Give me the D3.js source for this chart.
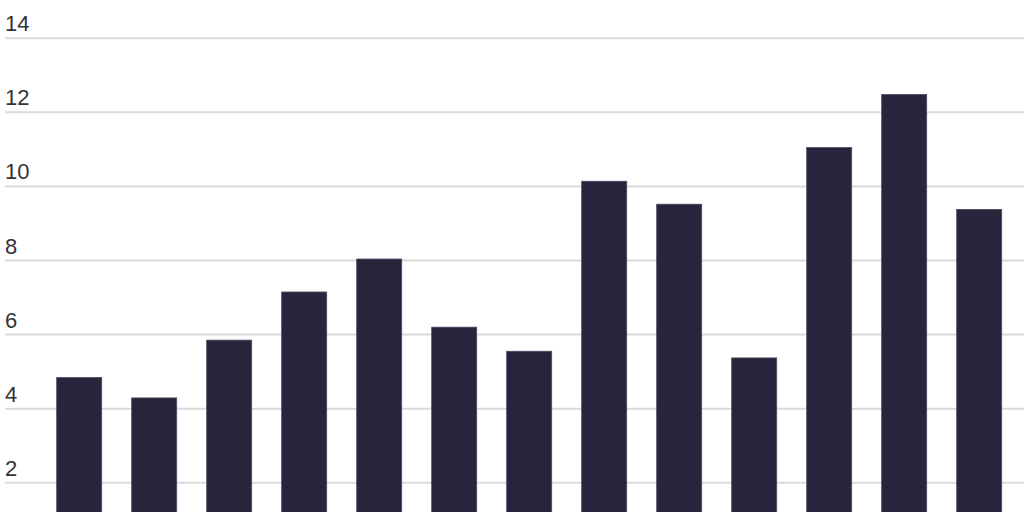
<!DOCTYPE html>
<html>
<head>
<meta charset="utf-8">
<script src="https://cdn.jsdelivr.net/npm/d3@7"></script>
<style>
  html, body { margin: 0; padding: 0; background: #fff; }
  svg { display: block; }
</style>
</head>
<body>
<svg id="chart" width="1024" height="512"></svg>
<script>
const categories = ["1","2","3","4","5","6","7","8","9","10","11","12","13"];
const values = [4.84, 4.29, 5.85, 7.15, 8.04, 6.20, 5.55, 10.14, 9.52, 5.37, 11.05, 12.48, 9.38];
const yTicks = [2, 4, 6, 8, 10, 12, 14];

const svg = d3.select("#chart");
const y = d3.scaleLinear().domain([0, 14]).range([556.8, 38.3]);
const x = d3.scaleBand().domain(categories).range([41.7, 1016.7])
  .paddingInner(0.4).paddingOuter(0.2);

const grid = svg.append("g");
grid.selectAll("line").data(yTicks).join("line")
  .attr("x1", 5).attr("x2", 1024)
  .attr("y1", d => y(d)).attr("y2", d => y(d))
  .attr("stroke", "#dadada").attr("stroke-width", 2);

grid.selectAll("text").data(yTicks).join("text")
  .attr("x", 5).attr("y", d => y(d) - 7)
  .attr("font-family", "Liberation Sans, Arial, sans-serif")
  .attr("font-size", 22)
  .attr("fill", "#333")
  .text(d => d);

svg.append("g").selectAll("rect").data(values).join("rect")
  .attr("x", (d, i) => x(categories[i]))
  .attr("width", x.bandwidth())
  .attr("y", d => y(d))
  .attr("height", d => y(0) - y(d))
  .attr("fill", "#29243c")
  .attr("stroke", "#4b4660")
  .attr("stroke-width", 0.8);
</script>
</body>
</html>
